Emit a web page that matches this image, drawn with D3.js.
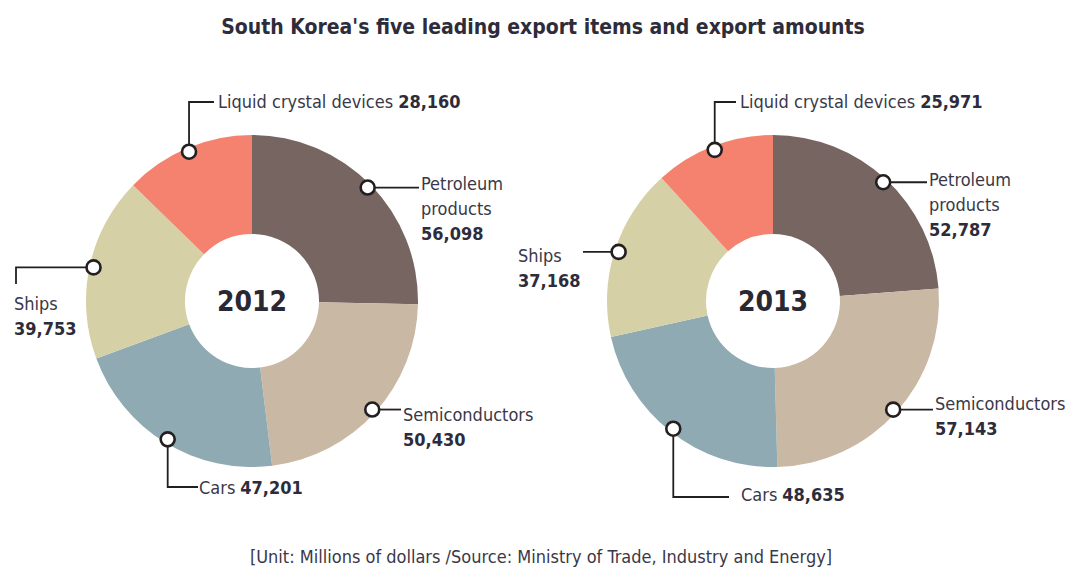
<!DOCTYPE html>
<html><head><meta charset="utf-8">
<script src="https://cdn.jsdelivr.net/npm/d3@7"></script>
<style>
body{margin:0;background:#fff;}
svg{display:block;}
</style></head>
<body>
<svg id="c" width="1080" height="574"></svg>
<script>
const categories = ["Petroleum products","Semiconductors","Cars","Ships","Liquid crystal devices"];
const years = ["2012","2013"];
const values2012 = [56098, 50430, 47201, 39753, 28160];
const values2013 = [52787, 57143, 48635, 37168, 25971];
const valueLabels2012 = ["56,098","50,430","47,201","39,753","28,160"];
const valueLabels2013 = ["52,787","57,143","48,635","37,168","25,971"];
const colors = ["#766561","#c9b8a3","#8faab2","#d6d0a7","#f4826f"];
const titleText = "South Korea's five leading export items and export amounts";
const footText = "[Unit: Millions of dollars /Source: Ministry of Trade, Industry and Energy]";

const svg = d3.select("#c");
const font = '"Liberation Sans Narrow","DejaVu Sans Condensed",Roboto,sans-serif';

svg.append("text").attr("x",543).attr("y",34).attr("text-anchor","middle")
  .attr("font-family",font).attr("font-weight","bold").attr("font-size",21).attr("fill","#2e2c3a")
  .text(titleText);
svg.append("text").attr("x",541).attr("y",563).attr("text-anchor","middle")
  .attr("font-family",font).attr("font-size",18).attr("fill","#3a3848")
  .text(footText);

const outerR = 166, innerR = 67;
const pie = d3.pie().sort(null).value(d=>d);
const arc = d3.arc().innerRadius(innerR).outerRadius(outerR);

const layouts = [
  { cx:252, cy:301, labels:[
    {type:"right", lx:421, ly:190, lines:["Petroleum","products"], valLine:true},
    {type:"right", lx:403, ly:421, lines:["Semiconductors"], valLine:true},
    {type:"downright", lx:199, ly:494, elbowY:487, lines:["Cars"], valLine:false},
    {type:"leftdown", lx:14, ly:310, elbowX:16, elbowY:284, lines:["Ships"], valLine:true},
    {type:"upright", lx:218, ly:108, elbowY:102, lines:["Liquid crystal devices"], valLine:false}
  ]},
  { cx:773, cy:301, labels:[
    {type:"right", lx:929, ly:186, lines:["Petroleum","products"], valLine:true},
    {type:"right", lx:935, ly:410, lines:["Semiconductors"], valLine:true},
    {type:"downright", lx:741, ly:501, elbowY:497, lineEnd:729, lines:["Cars"], valLine:false},
    {type:"left", lx:518, ly:262, lineEnd:583, lines:["Ships"], valLine:true},
    {type:"upright", lx:740, ly:108, elbowY:102, lines:["Liquid crystal devices"], valLine:false}
  ]}
];

const dataSets = [values2012, values2013];
const valLabels = [valueLabels2012, valueLabels2013];

dataSets.forEach((vals, ci) => {
  const L = layouts[ci];
  const g = svg.append("g").attr("transform",`translate(${L.cx},${L.cy})`);
  const arcs = pie(vals);
  g.selectAll("path").data(arcs).join("path")
    .attr("d",arc).attr("fill",(d,i)=>colors[i]);
  g.append("text").attr("x",0).attr("y",10).attr("text-anchor","middle")
    .attr("font-family",font).attr("font-size",28).attr("font-weight","bold").attr("fill","#2a2833")
    .text(years[ci]);

  const lineG = svg.append("g");
  const markG = svg.append("g");
  arcs.forEach((a,i)=>{
    const ang = (a.startAngle + a.endAngle)/2;
    const mr = outerR - 4;
    const mx = L.cx + mr*Math.sin(ang), my = L.cy - mr*Math.cos(ang);
    const lb = L.labels[i];
    let pts;
    if(lb.type==="right") pts=[[mx,my],[lb.lx-2,my]];
    else if(lb.type==="upright") pts=[[mx,my],[mx,lb.elbowY],[lb.lx-4,lb.elbowY]];
    else if(lb.type==="downright") pts=[[mx,my],[mx,lb.elbowY],[lb.lineEnd||lb.lx-1,lb.elbowY]];
    else if(lb.type==="leftdown") pts=[[mx,my],[lb.elbowX,my],[lb.elbowX,lb.elbowY]];
    else if(lb.type==="left") pts=[[mx,my],[lb.lineEnd,my]];
    lineG.append("path").attr("d",d3.line()(pts)).attr("fill","none")
      .attr("stroke","#231f20").attr("stroke-width",1.8);
    markG.append("circle").attr("cx",mx).attr("cy",my).attr("r",7)
      .attr("fill","#fff").attr("stroke","#231f20").attr("stroke-width",2.6);

    const t = svg.append("text").attr("font-family",font).attr("fill","#3a3848").attr("font-size",18);
    const lh = 25;
    lb.lines.forEach((ln,k)=>{
      t.append("tspan").attr("x",lb.lx).attr("y",lb.ly + k*lh).text(ln);
    });
    const vt = valLabels[ci][i];
    if(lb.valLine){
      t.append("tspan").attr("x",lb.lx).attr("y",lb.ly + lb.lines.length*lh)
        .attr("font-size",18).attr("font-weight","bold").attr("fill","#2e2c3a").text(vt);
    } else {
      t.append("tspan").attr("dx",5).attr("font-size",18).attr("font-weight","bold").attr("fill","#2e2c3a").text(vt);
    }
  });
});
</script>
</body></html>
